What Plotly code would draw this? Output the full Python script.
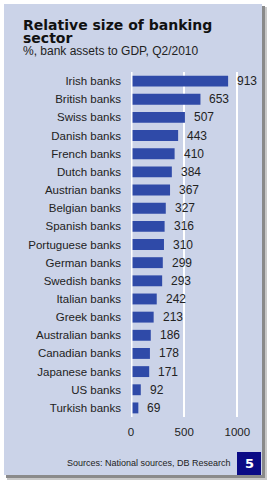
import plotly.graph_objects as go

categories = ["Irish banks", "British banks", "Swiss banks", "Danish banks", "French banks",
              "Dutch banks", "Austrian banks", "Belgian banks", "Spanish banks", "Portuguese banks",
              "German banks", "Swedish banks", "Italian banks", "Greek banks", "Australian banks",
              "Canadian banks", "Japanese banks", "US banks", "Turkish banks"]
values = [913, 653, 507, 443, 410, 384, 367, 327, 316, 310, 299, 293, 242, 213, 186, 178, 171, 92, 69]
x_ticks = [0, 500, 1000]

W, H = 272, 484
L, R, T, B = 131, 24, 72, 67
PW, PH = W - L - R, H - T - B

def px(x):
    return (x - L) / PW

def py(y):
    return (H - B - y) / PH

PANEL = "#CBD3E8"
BAR = "#2F4AA8"

fig = go.Figure()
fig.add_trace(go.Bar(
    x=values, y=categories, orientation="h",
    marker=dict(color=BAR, line=dict(width=0)),
    hoverinfo="skip",
))

shapes = []
# shadow
shapes.append(dict(type="rect", xref="paper", yref="paper", layer="below",
                   x0=px(7), x1=px(267), y0=py(7), y1=py(480),
                   fillcolor="#c8c8c8", line=dict(width=0)))
shapes.append(dict(type="rect", xref="paper", yref="paper", layer="below",
                   x0=px(6), x1=px(265), y0=py(6), y1=py(478),
                   fillcolor="#8a8a8a", line=dict(width=0)))
# panel
shapes.append(dict(type="rect", xref="paper", yref="paper", layer="below",
                   x0=px(4), x1=px(262), y0=py(4), y1=py(475),
                   fillcolor=PANEL, line=dict(width=0)))
# zero line above bars
shapes.append(dict(type="line", xref="x", yref="paper", layer="above",
                   x0=0, x1=0, y0=0, y1=1, line=dict(color="white", width=3)))
# number box
shapes.append(dict(type="rect", xref="paper", yref="paper", layer="above",
                   x0=px(237), x1=px(261), y0=py(452), y1=py(475),
                   fillcolor="#0A0A85", line=dict(width=0)))

FONT = "Liberation Sans, Arial, sans-serif"
annotations = []
for c, v in zip(categories, values):
    annotations.append(dict(x=v, y=c, xref="x", yref="y", text=str(v), showarrow=False,
                            xanchor="left", xshift=7,
                            font=dict(size=12, color="#222222", family=FONT)))
annotations.append(dict(x=px(22), y=py(25.5), xref="paper", yref="paper",
                        text="<b>Relative size of banking</b>", showarrow=False,
                        xanchor="left", yanchor="middle", borderpad=0,
                        font=dict(size=14, color="#111111", family="DejaVu Sans")))
annotations.append(dict(x=px(22), y=py(38.5), xref="paper", yref="paper",
                        text="<b>sector</b>", showarrow=False,
                        xanchor="left", yanchor="middle", borderpad=0,
                        font=dict(size=14, color="#111111", family="DejaVu Sans")))
annotations.append(dict(x=px(22), y=py(50.5), xref="paper", yref="paper",
                        text="%, bank assets to GDP, Q2/2010", showarrow=False,
                        xanchor="left", yanchor="middle", borderpad=0,
                        font=dict(size=12, color="#222222", family=FONT)))
annotations.append(dict(x=px(233), y=py(463), xref="paper", yref="paper",
                        text="Sources: National sources, DB Research", showarrow=False,
                        xanchor="right", yanchor="middle",
                        font=dict(size=9, color="#222222", family=FONT)))
annotations.append(dict(x=px(249), y=py(463.5), xref="paper", yref="paper",
                        text="<b>5</b>", showarrow=False,
                        xanchor="center", yanchor="middle",
                        font=dict(size=13, color="white", family="DejaVu Sans")))

fig.update_layout(
    width=W, height=H,
    margin=dict(l=L, r=R, t=T, b=B, pad=0),
    paper_bgcolor="white", plot_bgcolor=PANEL,
    showlegend=False, bargap=0.4,
    shapes=shapes, annotations=annotations,
    font=dict(family=FONT, color="#222222"),
    xaxis=dict(range=[0, 1100], tickvals=x_ticks, showgrid=True, gridcolor="white", gridwidth=1.5,
               zeroline=False, showline=False, ticks="", tickfont=dict(size=11.5, color="#222222"),
               ticklabelstandoff=6, fixedrange=True),
    yaxis=dict(categoryorder="array", categoryarray=categories, autorange="reversed",
               showgrid=False, zeroline=False, showline=False, ticks="",
               tickfont=dict(size=11.5, color="#222222"), ticklabelstandoff=9, fixedrange=True),
)

fig.write_html("out.html", config={"displayModeBar": False})
